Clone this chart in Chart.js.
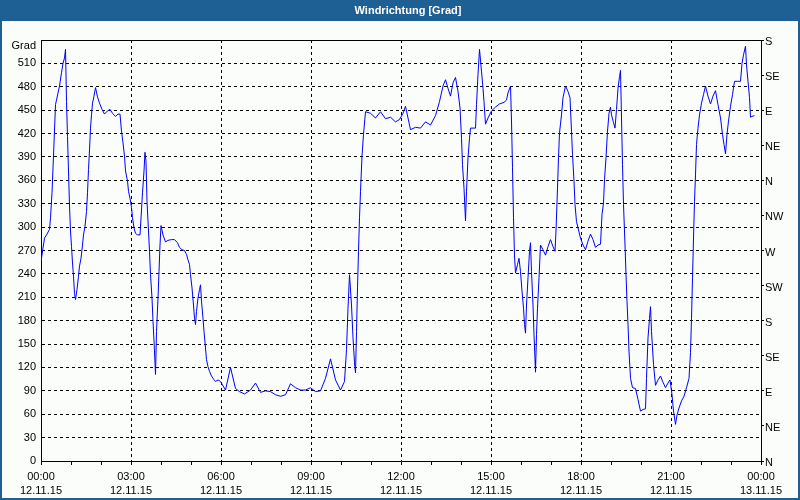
<!DOCTYPE html>
<html>
<head>
<meta charset="utf-8">
<script src="https://cdn.jsdelivr.net/npm/chart.js@4/dist/chart.umd.min.js"></script>
<style>
  html, body { margin: 0; padding: 0; background: #fafdfa; }
  canvas { display: block; }
</style>
</head>
<body>
<canvas id="c" width="800" height="500"></canvas>
<script>
// ---- data (minutes since 00:00 on 12.11.15, wind direction in degrees) ----
const minutes = [
  0,4,7,11,17,19,22,24,26,29,31,34,37,41,44,47,49,51,53,55,57,59,61,63,65,67,69,72,75,77,80,83,85,88,91,93,95,97,99,101,
  103,106,109,113,117,122,127,133,138,143,149,154,158,161,164,167,169,173,175,178,181,183,186,189,193,198,201,203,206,208,
  210,212,215,217,219,222,224,226,229,231,234,236,238,240,244,249,254,261,267,273,277,282,287,291,294,297,299,302,305,307,
  309,311,314,317,319,321,324,326,329,331,334,337,341,345,349,354,
  359,369,379,389,397,407,419,429,439,449,459,469,479,489,499,509,519,529,539,549,559,569,579,589,599,607,611,614,617,621,
  624,627,629,631,633,635,637,639,642,645,649,659,669,679,689,699,709,717,
  724,729,739,749,759,769,779,789,797,804,809,814,819,824,829,834,838,841,843,846,849,851,854,857,859,869,871,874,877,881,
  884,886,889,894,901,909,917,926,931,934,939,941,943,945,947,949,953,956,959,962,965,967,969,971,974,977,979,981,984,986,
  988,989,991,993,996,999,1004,1009,1014,1019,1024,1028,1030,1033,1035,1037,1041,1044,1049,1054,1058,1061,1063,1066,1068,1071,1074,
  1079,1084,1089,1094,1099,1104,1109,1114,1119,1122,1125,1127,1130,1133,1136,1139,1141,1145,1148,1151,1154,1157,1159,1161,
  1163,1165,1168,1170,1172,1174,1176,1179,1183,1189,1194,1199,1204,1209,1211,1214,1217,1219,1221,1225,1229,1234,1239,1244,
  1249,1254,1258,1262,1265,1269,1272,1276,1281,1286,1291,1296,1299,1301,1303,1305,1307,1309,1311,1314,1317,1321,1325,1329,
  1334,1339,1344,1349,1354,1359,1363,1366,1369,1372,1375,1379,1383,1387,1393,1399,1402,1405,1409,1411,1414,1417,1419,1422,1427
];
const degrees = [
  256,273,286,290,297,312,344,376,408,457,463,472,481,498,510,517,528,461,416,372,327,295,275,254,237,215,207,220,237,250,
  260,277,290,301,320,344,374,399,427,444,459,468,479,467,459,451,445,449,451,446,442,445,445,423,408,391,372,359,346,337,
  325,312,299,292,290,290,322,344,372,396,384,333,295,269,239,209,179,154,111,166,209,243,277,302,290,281,283,284,284,280,
  274,271,270,265,258,252,239,222,200,183,175,192,209,220,226,205,183,166,145,130,121,115,109,105,102,104,
  102,91,120,93,89,86,91,100,88,90,89,85,83,85,99,94,91,91,94,89,90,106,131,104,91,102,143,196,239,200,
  158,126,113,166,222,269,312,346,391,419,448,446,440,448,439,441,435,438,
  446,455,425,428,427,435,431,443,461,481,489,478,468,485,492,474,453,414,380,350,308,346,389,414,427,427,457,496,528,500,
  478,461,432,440,449,454,458,460,463,472,481,436,376,312,263,241,252,260,243,218,196,175,164,200,235,269,280,243,200,162,
  130,114,162,196,235,277,271,264,275,284,275,269,295,350,389,421,444,466,481,474,466,423,393,359,329,307,299,
  286,277,271,282,291,284,274,277,278,316,331,361,389,423,446,454,444,434,427,451,478,493,501,440,
  380,329,277,239,205,175,141,106,94,93,79,64,66,67,106,158,183,198,166,124,97,104,109,101,
  94,100,104,85,64,47,59,68,77,83,94,106,139,183,235,286,333,367,406,427,444,459,470,481,
  468,458,468,475,457,440,419,406,394,419,436,455,470,487,487,487,510,521,532,508,487,466,441,442,443
];
const timeLabels = ['00:00','03:00','06:00','09:00','12:00','15:00','18:00','21:00','00:00'];
const dateLabels = ['12.11.15','12.11.15','12.11.15','12.11.15','12.11.15','12.11.15','12.11.15','12.11.15','13.11.15'];
const compassLabels = ['N','NE','E','SE','S','SW','W','NW','N','NE','E','SE','S'];
const chartTitle = 'Windrichtung [Grad]';
const unitLabel = 'Grad';

const points = minutes.map((m, i) => ({ x: m, y: degrees[i] }));
const FONT = '"Liberation Sans", Arial, sans-serif';

const framePlugin = {
  id: 'frame',
  beforeDraw(chart) {
    const ctx = chart.ctx;
    ctx.save();
    ctx.fillStyle = '#fafdfa';
    ctx.fillRect(0, 0, chart.width, chart.height);
    ctx.fillStyle = '#1e5f94';
    ctx.fillRect(0, 0, chart.width, 21);
    ctx.strokeStyle = '#1e5f94';
    ctx.lineWidth = 2;
    ctx.strokeRect(1, 1, chart.width - 2, chart.height - 2);
    ctx.fillStyle = '#ffffff';
    ctx.font = 'bold 11px ' + FONT;
    ctx.textAlign = 'center';
    ctx.textBaseline = 'middle';
    ctx.fillText(chartTitle, 408, 11);
    ctx.restore();
  },
  afterDraw(chart) {
    const ctx = chart.ctx;
    const a = chart.chartArea;
    ctx.save();
    ctx.strokeStyle = '#000';
    ctx.lineWidth = 1;
    ctx.beginPath();
    ctx.moveTo(Math.round(a.left), Math.round(a.top) + 0.5);
    ctx.lineTo(Math.round(a.right), Math.round(a.top) + 0.5);
    ctx.stroke();
    ctx.fillStyle = '#000';
    ctx.font = '11px ' + FONT;
    ctx.textAlign = 'right';
    ctx.textBaseline = 'middle';
    ctx.fillText(unitLabel, a.left - 5, a.top + 6);
    ctx.restore();
  }
};

new Chart(document.getElementById('c'), {
  type: 'line',
  data: {
    datasets: [{
      data: points,
      borderColor: '#0000ff',
      borderWidth: 1,
      pointRadius: 0,
      tension: 0,
      fill: false
    }]
  },
  options: {
    responsive: false,
    animation: false,
    events: [],
    layout: { padding: { top: 40, left: 0, right: 0, bottom: 0 } },
    plugins: { legend: { display: false }, title: { display: false }, tooltip: { enabled: false } },
    scales: {
      x: {
        type: 'linear',
        min: 0, max: 1440,
        afterFit(s) { s.height = 39; },
        ticks: {
          stepSize: 60,
          autoSkip: false,
          maxRotation: 0,
          padding: 4,
          color: '#000',
          font: { family: FONT, size: 11, lineHeight: 1.36 },
          callback(v) {
            if (v % 180 !== 0) return '';
            const i = v / 180;
            return [timeLabels[i], dateLabels[i]];
          }
        },
        grid: {
          color(c) { return (c.tick && c.tick.value % 180 === 0) ? '#000' : 'rgba(0,0,0,0)'; },
          tickColor: '#000',
          tickLength: 4,
          tickBorderDash: [],
          lineWidth: 1
        },
        border: { display: true, color: '#000', width: 1, dash: [3, 3] }
      },
      y: {
        position: 'left',
        min: 0, max: 540,
        afterFit(s) { s.width = 41; },
        ticks: {
          stepSize: 30,
          padding: 5,
          color: '#000',
          font: { family: FONT, size: 11 },
          callback(v) { return v === 540 ? '' : String(v); }
        },
        grid: { color: '#000', drawTicks: false, lineWidth: 1 },
        border: { display: true, color: '#000', width: 1, dash: [3, 3] }
      },
      y2: {
        position: 'right',
        min: 0, max: 540,
        afterFit(s) { s.width = 39; },
        ticks: {
          stepSize: 45,
          padding: 1,
          labelOffset: 2,
          color: '#000',
          font: { family: FONT, size: 11 },
          callback(v) { return compassLabels[Math.round(v / 45)] || ''; }
        },
        grid: { drawOnChartArea: false, drawTicks: true, tickLength: 3, tickColor: '#000' },
        border: { display: true, color: '#000', width: 1 }
      }
    }
  },
  plugins: [framePlugin]
});
</script>
</body>
</html>
